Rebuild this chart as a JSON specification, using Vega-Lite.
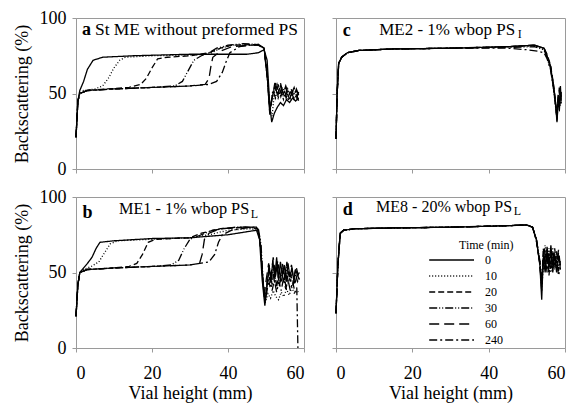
{
  "$schema": "https://vega.github.io/schema/vega-lite/v6.json",
  "background": "white",
  "padding": {"left": 12, "top": 8, "right": 8, "bottom": 2},
  "config": {
    "font": "'Liberation Serif', 'Times New Roman', serif",
    "view": {"stroke": "#9a9a9a", "strokeWidth": 1},
    "axis": {"grid": false, "domainColor": "#9a9a9a", "tickColor": "#9a9a9a", "tickSize": 4, "labelColor": "black", "titleColor": "black", "labelFont": "'Liberation Serif', 'Times New Roman', serif", "titleFont": "'Liberation Serif', 'Times New Roman', serif", "labelFontSize": 18, "titleFontSize": 18, "titleFontWeight": "normal"},
    "legend": {"labelFont": "'Liberation Serif', 'Times New Roman', serif", "titleFont": "'Liberation Serif', 'Times New Roman', serif"},
    "text": {"font": "'Liberation Serif', 'Times New Roman', serif"}
  },
  "datasets": {
    "lab": [
      {"p": "a", "letter": "a", "title": "St ME without preformed PS", "sub": ""},
      {"p": "b", "letter": "b", "title": "ME1 - 1% wbop PS", "sub": "L"},
      {"p": "c", "letter": "c", "title": "ME2 - 1% wbop PS", "sub": "I"},
      {"p": "d", "letter": "d", "title": "ME8 - 20% wbop PS", "sub": "L"}
    ],
    "bs": [
      {"p":"a","t":0,"x":0,"y":21},{"p":"a","t":0,"x":0.5,"y":45},{"p":"a","t":0,"x":1,"y":52},{"p":"a","t":0,"x":2,"y":58},{"p":"a","t":0,"x":3,"y":66},{"p":"a","t":0,"x":4.5,"y":72},{"p":"a","t":0,"x":7,"y":74},{"p":"a","t":0,"x":15,"y":75},{"p":"a","t":0,"x":30,"y":76},{"p":"a","t":0,"x":45,"y":76},{"p":"a","t":0,"x":48,"y":77},{"p":"a","t":0,"x":49.5,"y":79},{"p":"a","t":0,"x":50.3,"y":72},{"p":"a","t":0,"x":51,"y":42},{"p":"a","t":0,"x":51.5,"y":31},{"p":"a","t":0,"x":52.2,"y":37},{"p":"a","t":0,"x":53,"y":41},{"p":"a","t":0,"x":53.8,"y":44},{"p":"a","t":0,"x":54.6,"y":42},{"p":"a","t":0,"x":55.4,"y":46},{"p":"a","t":0,"x":56.2,"y":44},{"p":"a","t":0,"x":57,"y":47},{"p":"a","t":0,"x":57.8,"y":45},{"p":"a","t":0,"x":58.6,"y":47},
      {"p":"a","t":10,"x":0,"y":21},{"p":"a","t":10,"x":0.5,"y":45},{"p":"a","t":10,"x":1,"y":50},{"p":"a","t":10,"x":2,"y":52},{"p":"a","t":10,"x":5,"y":53},{"p":"a","t":10,"x":7,"y":55},{"p":"a","t":10,"x":8.5,"y":60},{"p":"a","t":10,"x":10,"y":67},{"p":"a","t":10,"x":11.5,"y":72},{"p":"a","t":10,"x":13,"y":74},{"p":"a","t":10,"x":20,"y":75},{"p":"a","t":10,"x":30,"y":75.5},{"p":"a","t":10,"x":35,"y":76},{"p":"a","t":10,"x":38,"y":80},{"p":"a","t":10,"x":41,"y":82},{"p":"a","t":10,"x":48,"y":82},{"p":"a","t":10,"x":49.5,"y":80},{"p":"a","t":10,"x":50.4,"y":62},{"p":"a","t":10,"x":51,"y":40},{"p":"a","t":10,"x":51.6,"y":35},{"p":"a","t":10,"x":52.2,"y":50},{"p":"a","t":10,"x":52.9,"y":56},{"p":"a","t":10,"x":53.6,"y":49},{"p":"a","t":10,"x":54.3,"y":54},{"p":"a","t":10,"x":55,"y":48},{"p":"a","t":10,"x":55.7,"y":53},{"p":"a","t":10,"x":56.4,"y":47},{"p":"a","t":10,"x":57.1,"y":52},{"p":"a","t":10,"x":57.8,"y":48},{"p":"a","t":10,"x":58.5,"y":50},
      {"p":"a","t":20,"x":0,"y":21},{"p":"a","t":20,"x":0.5,"y":45},{"p":"a","t":20,"x":1,"y":50},{"p":"a","t":20,"x":3,"y":52},{"p":"a","t":20,"x":8,"y":53},{"p":"a","t":20,"x":14,"y":54},{"p":"a","t":20,"x":17,"y":56},{"p":"a","t":20,"x":18.5,"y":60},{"p":"a","t":20,"x":20,"y":67},{"p":"a","t":20,"x":21.5,"y":73},{"p":"a","t":20,"x":24,"y":74},{"p":"a","t":20,"x":30,"y":75},{"p":"a","t":20,"x":35,"y":77},{"p":"a","t":20,"x":38,"y":80},{"p":"a","t":20,"x":41,"y":82},{"p":"a","t":20,"x":48,"y":82.5},{"p":"a","t":20,"x":49.5,"y":80},{"p":"a","t":20,"x":50.4,"y":60},{"p":"a","t":20,"x":51,"y":38},{"p":"a","t":20,"x":51.7,"y":48},{"p":"a","t":20,"x":52.4,"y":58},{"p":"a","t":20,"x":53.1,"y":50},{"p":"a","t":20,"x":53.8,"y":55},{"p":"a","t":20,"x":54.5,"y":49},{"p":"a","t":20,"x":55.2,"y":54},{"p":"a","t":20,"x":55.9,"y":48},{"p":"a","t":20,"x":56.6,"y":53},{"p":"a","t":20,"x":57.3,"y":49},{"p":"a","t":20,"x":58,"y":52},{"p":"a","t":20,"x":58.6,"y":48},
      {"p":"a","t":30,"x":0,"y":21},{"p":"a","t":30,"x":0.5,"y":45},{"p":"a","t":30,"x":1,"y":50},{"p":"a","t":30,"x":3,"y":52},{"p":"a","t":30,"x":10,"y":53},{"p":"a","t":30,"x":20,"y":54},{"p":"a","t":30,"x":26,"y":55},{"p":"a","t":30,"x":28,"y":58},{"p":"a","t":30,"x":29.5,"y":65},{"p":"a","t":30,"x":31,"y":72},{"p":"a","t":30,"x":33,"y":75},{"p":"a","t":30,"x":35,"y":77},{"p":"a","t":30,"x":37,"y":80},{"p":"a","t":30,"x":40,"y":82},{"p":"a","t":30,"x":44,"y":83},{"p":"a","t":30,"x":48,"y":82.5},{"p":"a","t":30,"x":49.5,"y":80},{"p":"a","t":30,"x":50.4,"y":58},{"p":"a","t":30,"x":51,"y":37},{"p":"a","t":30,"x":51.8,"y":52},{"p":"a","t":30,"x":52.5,"y":47},{"p":"a","t":30,"x":53.2,"y":56},{"p":"a","t":30,"x":53.9,"y":48},{"p":"a","t":30,"x":54.6,"y":53},{"p":"a","t":30,"x":55.3,"y":47},{"p":"a","t":30,"x":56,"y":52},{"p":"a","t":30,"x":56.7,"y":50},{"p":"a","t":30,"x":57.4,"y":54},{"p":"a","t":30,"x":58.1,"y":47},{"p":"a","t":30,"x":58.6,"y":51},
      {"p":"a","t":60,"x":0,"y":21},{"p":"a","t":60,"x":0.5,"y":45},{"p":"a","t":60,"x":1,"y":50},{"p":"a","t":60,"x":3,"y":52},{"p":"a","t":60,"x":10,"y":53},{"p":"a","t":60,"x":20,"y":54},{"p":"a","t":60,"x":30,"y":55},{"p":"a","t":60,"x":34,"y":56},{"p":"a","t":60,"x":35,"y":60},{"p":"a","t":60,"x":35.5,"y":68},{"p":"a","t":60,"x":36,"y":74},{"p":"a","t":60,"x":38,"y":78},{"p":"a","t":60,"x":41,"y":81},{"p":"a","t":60,"x":45,"y":82},{"p":"a","t":60,"x":48,"y":82},{"p":"a","t":60,"x":49.5,"y":80},{"p":"a","t":60,"x":50.4,"y":60},{"p":"a","t":60,"x":51,"y":36},{"p":"a","t":60,"x":51.7,"y":50},{"p":"a","t":60,"x":52.4,"y":55},{"p":"a","t":60,"x":53.1,"y":48},{"p":"a","t":60,"x":53.8,"y":57},{"p":"a","t":60,"x":54.5,"y":50},{"p":"a","t":60,"x":55.2,"y":55},{"p":"a","t":60,"x":55.9,"y":49},{"p":"a","t":60,"x":56.6,"y":51},{"p":"a","t":60,"x":57.3,"y":47},{"p":"a","t":60,"x":58,"y":53},{"p":"a","t":60,"x":58.6,"y":49},
      {"p":"a","t":240,"x":0,"y":21},{"p":"a","t":240,"x":0.5,"y":45},{"p":"a","t":240,"x":1,"y":50},{"p":"a","t":240,"x":3,"y":52},{"p":"a","t":240,"x":10,"y":53},{"p":"a","t":240,"x":20,"y":54},{"p":"a","t":240,"x":30,"y":55},{"p":"a","t":240,"x":35,"y":56},{"p":"a","t":240,"x":37,"y":58},{"p":"a","t":240,"x":38.5,"y":64},{"p":"a","t":240,"x":39.5,"y":71},{"p":"a","t":240,"x":40.5,"y":77},{"p":"a","t":240,"x":43,"y":81},{"p":"a","t":240,"x":46,"y":82},{"p":"a","t":240,"x":48,"y":82},{"p":"a","t":240,"x":49.5,"y":80},{"p":"a","t":240,"x":50.4,"y":59},{"p":"a","t":240,"x":51,"y":39},{"p":"a","t":240,"x":51.8,"y":49},{"p":"a","t":240,"x":52.5,"y":54},{"p":"a","t":240,"x":53.2,"y":47},{"p":"a","t":240,"x":53.9,"y":52},{"p":"a","t":240,"x":54.6,"y":46},{"p":"a","t":240,"x":55.3,"y":51},{"p":"a","t":240,"x":56,"y":45},{"p":"a","t":240,"x":56.7,"y":50},{"p":"a","t":240,"x":57.4,"y":46},{"p":"a","t":240,"x":58.1,"y":49},{"p":"a","t":240,"x":58.6,"y":45},

      {"p":"b","t":0,"x":0,"y":21},{"p":"b","t":0,"x":0.5,"y":42},{"p":"b","t":0,"x":1,"y":50},{"p":"b","t":0,"x":2,"y":53},{"p":"b","t":0,"x":3,"y":56},{"p":"b","t":0,"x":4.2,"y":60},{"p":"b","t":0,"x":5.3,"y":66},{"p":"b","t":0,"x":6.3,"y":70},{"p":"b","t":0,"x":10,"y":71},{"p":"b","t":0,"x":20,"y":72.5},{"p":"b","t":0,"x":30,"y":73},{"p":"b","t":0,"x":35,"y":74},{"p":"b","t":0,"x":40,"y":75},{"p":"b","t":0,"x":45,"y":77},{"p":"b","t":0,"x":47.5,"y":78},{"p":"b","t":0,"x":48.3,"y":72},{"p":"b","t":0,"x":49,"y":45},{"p":"b","t":0,"x":49.7,"y":28},{"p":"b","t":0,"x":50.3,"y":42},{"p":"b","t":0,"x":50.8,"y":55},{"p":"b","t":0,"x":51.3,"y":44},{"p":"b","t":0,"x":51.8,"y":58},{"p":"b","t":0,"x":52.3,"y":46},{"p":"b","t":0,"x":52.8,"y":60},{"p":"b","t":0,"x":53.3,"y":45},{"p":"b","t":0,"x":53.8,"y":57},{"p":"b","t":0,"x":54.3,"y":48},{"p":"b","t":0,"x":54.8,"y":55},{"p":"b","t":0,"x":55.3,"y":44},{"p":"b","t":0,"x":55.8,"y":56},{"p":"b","t":0,"x":56.3,"y":47},{"p":"b","t":0,"x":56.8,"y":53},{"p":"b","t":0,"x":57.3,"y":45},{"p":"b","t":0,"x":57.8,"y":52},{"p":"b","t":0,"x":58.3,"y":48},{"p":"b","t":0,"x":58.8,"y":50},
      {"p":"b","t":10,"x":0,"y":21},{"p":"b","t":10,"x":0.5,"y":42},{"p":"b","t":10,"x":1,"y":50},{"p":"b","t":10,"x":2,"y":52},{"p":"b","t":10,"x":4,"y":54},{"p":"b","t":10,"x":6,"y":57},{"p":"b","t":10,"x":7.5,"y":63},{"p":"b","t":10,"x":9,"y":69},{"p":"b","t":10,"x":11,"y":71},{"p":"b","t":10,"x":20,"y":72},{"p":"b","t":10,"x":30,"y":73},{"p":"b","t":10,"x":35,"y":75},{"p":"b","t":10,"x":40,"y":78},{"p":"b","t":10,"x":46,"y":79},{"p":"b","t":10,"x":47.8,"y":78},{"p":"b","t":10,"x":48.5,"y":70},{"p":"b","t":10,"x":49.2,"y":45},{"p":"b","t":10,"x":49.8,"y":30},{"p":"b","t":10,"x":50.5,"y":36},{"p":"b","t":10,"x":51.2,"y":33},{"p":"b","t":10,"x":51.9,"y":38},{"p":"b","t":10,"x":52.6,"y":34},{"p":"b","t":10,"x":53.3,"y":32},{"p":"b","t":10,"x":54,"y":37},{"p":"b","t":10,"x":54.7,"y":34},{"p":"b","t":10,"x":55.4,"y":39},{"p":"b","t":10,"x":56.1,"y":35},{"p":"b","t":10,"x":56.8,"y":40},{"p":"b","t":10,"x":57.5,"y":36},{"p":"b","t":10,"x":58.2,"y":38},{"p":"b","t":10,"x":58.8,"y":36},
      {"p":"b","t":20,"x":0,"y":21},{"p":"b","t":20,"x":0.5,"y":42},{"p":"b","t":20,"x":1,"y":50},{"p":"b","t":20,"x":3,"y":52},{"p":"b","t":20,"x":10,"y":53},{"p":"b","t":20,"x":14,"y":54},{"p":"b","t":20,"x":16,"y":56},{"p":"b","t":20,"x":17.5,"y":62},{"p":"b","t":20,"x":19,"y":70},{"p":"b","t":20,"x":21,"y":72},{"p":"b","t":20,"x":30,"y":73},{"p":"b","t":20,"x":33,"y":76},{"p":"b","t":20,"x":38,"y":79},{"p":"b","t":20,"x":45,"y":80},{"p":"b","t":20,"x":47.8,"y":79},{"p":"b","t":20,"x":48.5,"y":70},{"p":"b","t":20,"x":49.2,"y":44},{"p":"b","t":20,"x":49.8,"y":32},{"p":"b","t":20,"x":50.4,"y":45},{"p":"b","t":20,"x":51,"y":52},{"p":"b","t":20,"x":51.6,"y":42},{"p":"b","t":20,"x":52.2,"y":54},{"p":"b","t":20,"x":52.8,"y":40},{"p":"b","t":20,"x":53.4,"y":50},{"p":"b","t":20,"x":54,"y":43},{"p":"b","t":20,"x":54.6,"y":53},{"p":"b","t":20,"x":55.2,"y":41},{"p":"b","t":20,"x":55.8,"y":51},{"p":"b","t":20,"x":56.4,"y":44},{"p":"b","t":20,"x":57,"y":50},{"p":"b","t":20,"x":57.6,"y":42},{"p":"b","t":20,"x":58.2,"y":49},{"p":"b","t":20,"x":58.8,"y":45},
      {"p":"b","t":30,"x":0,"y":21},{"p":"b","t":30,"x":0.5,"y":42},{"p":"b","t":30,"x":1,"y":50},{"p":"b","t":30,"x":3,"y":52},{"p":"b","t":30,"x":10,"y":53},{"p":"b","t":30,"x":20,"y":54},{"p":"b","t":30,"x":25,"y":55},{"p":"b","t":30,"x":27,"y":58},{"p":"b","t":30,"x":28.5,"y":66},{"p":"b","t":30,"x":30,"y":72},{"p":"b","t":30,"x":32,"y":74},{"p":"b","t":30,"x":36,"y":78},{"p":"b","t":30,"x":42,"y":80},{"p":"b","t":30,"x":47,"y":80},{"p":"b","t":30,"x":48,"y":79},{"p":"b","t":30,"x":48.7,"y":68},{"p":"b","t":30,"x":49.3,"y":42},{"p":"b","t":30,"x":49.9,"y":33},{"p":"b","t":30,"x":50.5,"y":48},{"p":"b","t":30,"x":51.1,"y":40},{"p":"b","t":30,"x":51.7,"y":52},{"p":"b","t":30,"x":52.3,"y":43},{"p":"b","t":30,"x":52.9,"y":55},{"p":"b","t":30,"x":53.5,"y":41},{"p":"b","t":30,"x":54.1,"y":50},{"p":"b","t":30,"x":54.7,"y":44},{"p":"b","t":30,"x":55.3,"y":54},{"p":"b","t":30,"x":55.9,"y":42},{"p":"b","t":30,"x":56.5,"y":49},{"p":"b","t":30,"x":57.1,"y":41},{"p":"b","t":30,"x":57.7,"y":50},{"p":"b","t":30,"x":58.3,"y":44},{"p":"b","t":30,"x":58.8,"y":47},
      {"p":"b","t":60,"x":0,"y":21},{"p":"b","t":60,"x":0.5,"y":42},{"p":"b","t":60,"x":1,"y":50},{"p":"b","t":60,"x":3,"y":52},{"p":"b","t":60,"x":10,"y":53},{"p":"b","t":60,"x":20,"y":54},{"p":"b","t":60,"x":30,"y":55},{"p":"b","t":60,"x":32.5,"y":56},{"p":"b","t":60,"x":33.2,"y":62},{"p":"b","t":60,"x":33.8,"y":72},{"p":"b","t":60,"x":35,"y":76},{"p":"b","t":60,"x":38,"y":79},{"p":"b","t":60,"x":44,"y":80},{"p":"b","t":60,"x":47.5,"y":80},{"p":"b","t":60,"x":48.2,"y":76},{"p":"b","t":60,"x":48.9,"y":55},{"p":"b","t":60,"x":49.5,"y":34},{"p":"b","t":60,"x":50.1,"y":46},{"p":"b","t":60,"x":50.7,"y":56},{"p":"b","t":60,"x":51.3,"y":47},{"p":"b","t":60,"x":51.9,"y":60},{"p":"b","t":60,"x":52.5,"y":48},{"p":"b","t":60,"x":53.1,"y":58},{"p":"b","t":60,"x":53.7,"y":46},{"p":"b","t":60,"x":54.3,"y":56},{"p":"b","t":60,"x":54.9,"y":45},{"p":"b","t":60,"x":55.5,"y":57},{"p":"b","t":60,"x":56.1,"y":47},{"p":"b","t":60,"x":56.7,"y":55},{"p":"b","t":60,"x":57.3,"y":46},{"p":"b","t":60,"x":57.9,"y":54},{"p":"b","t":60,"x":58.5,"y":48},
      {"p":"b","t":240,"x":0,"y":21},{"p":"b","t":240,"x":0.5,"y":42},{"p":"b","t":240,"x":1,"y":50},{"p":"b","t":240,"x":3,"y":52},{"p":"b","t":240,"x":10,"y":53},{"p":"b","t":240,"x":20,"y":54},{"p":"b","t":240,"x":30,"y":55},{"p":"b","t":240,"x":35,"y":57},{"p":"b","t":240,"x":36.5,"y":62},{"p":"b","t":240,"x":37.5,"y":70},{"p":"b","t":240,"x":38.5,"y":75},{"p":"b","t":240,"x":41,"y":78},{"p":"b","t":240,"x":46,"y":80},{"p":"b","t":240,"x":47.8,"y":79},{"p":"b","t":240,"x":48.5,"y":70},{"p":"b","t":240,"x":49.2,"y":44},{"p":"b","t":240,"x":49.8,"y":31},{"p":"b","t":240,"x":50.4,"y":40},{"p":"b","t":240,"x":51,"y":47},{"p":"b","t":240,"x":51.6,"y":38},{"p":"b","t":240,"x":52.2,"y":45},{"p":"b","t":240,"x":52.8,"y":37},{"p":"b","t":240,"x":53.4,"y":44},{"p":"b","t":240,"x":54,"y":38},{"p":"b","t":240,"x":54.6,"y":46},{"p":"b","t":240,"x":55.2,"y":39},{"p":"b","t":240,"x":55.8,"y":45},{"p":"b","t":240,"x":56.4,"y":38},{"p":"b","t":240,"x":57,"y":44},{"p":"b","t":240,"x":57.6,"y":37},{"p":"b","t":240,"x":58.1,"y":40},{"p":"b","t":240,"x":58.4,"y":0},

      {"p":"c","t":0,"x":0,"y":20},{"p":"c","t":0,"x":0.3,"y":50},{"p":"c","t":0,"x":0.7,"y":70},{"p":"c","t":0,"x":1.5,"y":74},{"p":"c","t":0,"x":3,"y":77},{"p":"c","t":0,"x":6,"y":78.5},{"p":"c","t":0,"x":15,"y":79.5},{"p":"c","t":0,"x":30,"y":80},{"p":"c","t":0,"x":45,"y":81},{"p":"c","t":0,"x":52,"y":82},{"p":"c","t":0,"x":54.5,"y":80},{"p":"c","t":0,"x":55.3,"y":75},{"p":"c","t":0,"x":56.2,"y":68},{"p":"c","t":0,"x":57,"y":55},{"p":"c","t":0,"x":57.5,"y":44},{"p":"c","t":0,"x":57.9,"y":31},{"p":"c","t":0,"x":58.2,"y":48},{"p":"c","t":0,"x":58.5,"y":40},{"p":"c","t":0,"x":58.8,"y":55},{"p":"c","t":0,"x":59,"y":45},
      {"p":"c","t":10,"x":0,"y":20},{"p":"c","t":10,"x":0.3,"y":50},{"p":"c","t":10,"x":0.7,"y":70},{"p":"c","t":10,"x":1.5,"y":74},{"p":"c","t":10,"x":3,"y":77},{"p":"c","t":10,"x":6,"y":78.5},{"p":"c","t":10,"x":15,"y":79.5},{"p":"c","t":10,"x":30,"y":80},{"p":"c","t":10,"x":45,"y":81},{"p":"c","t":10,"x":52,"y":81.5},{"p":"c","t":10,"x":54.5,"y":79},{"p":"c","t":10,"x":55.3,"y":74},{"p":"c","t":10,"x":56.2,"y":66},{"p":"c","t":10,"x":57,"y":53},{"p":"c","t":10,"x":57.5,"y":42},{"p":"c","t":10,"x":57.9,"y":34},{"p":"c","t":10,"x":58.2,"y":44},{"p":"c","t":10,"x":58.5,"y":52},{"p":"c","t":10,"x":58.8,"y":42},{"p":"c","t":10,"x":59,"y":50},
      {"p":"c","t":20,"x":0,"y":20},{"p":"c","t":20,"x":0.3,"y":50},{"p":"c","t":20,"x":0.7,"y":70},{"p":"c","t":20,"x":1.5,"y":74},{"p":"c","t":20,"x":3,"y":77},{"p":"c","t":20,"x":6,"y":78.5},{"p":"c","t":20,"x":15,"y":79.5},{"p":"c","t":20,"x":30,"y":80},{"p":"c","t":20,"x":45,"y":81},{"p":"c","t":20,"x":52,"y":82},{"p":"c","t":20,"x":54.5,"y":80},{"p":"c","t":20,"x":55.3,"y":76},{"p":"c","t":20,"x":56.2,"y":69},{"p":"c","t":20,"x":57,"y":56},{"p":"c","t":20,"x":57.5,"y":45},{"p":"c","t":20,"x":57.9,"y":33},{"p":"c","t":20,"x":58.2,"y":50},{"p":"c","t":20,"x":58.5,"y":43},{"p":"c","t":20,"x":58.8,"y":53},{"p":"c","t":20,"x":59,"y":48},
      {"p":"c","t":30,"x":0,"y":20},{"p":"c","t":30,"x":0.3,"y":50},{"p":"c","t":30,"x":0.7,"y":70},{"p":"c","t":30,"x":1.5,"y":74},{"p":"c","t":30,"x":3,"y":77},{"p":"c","t":30,"x":6,"y":78.5},{"p":"c","t":30,"x":15,"y":79.5},{"p":"c","t":30,"x":30,"y":80},{"p":"c","t":30,"x":45,"y":80.5},{"p":"c","t":30,"x":52,"y":81},{"p":"c","t":30,"x":54.5,"y":79},{"p":"c","t":30,"x":55.3,"y":74},{"p":"c","t":30,"x":56.2,"y":67},{"p":"c","t":30,"x":57,"y":54},{"p":"c","t":30,"x":57.5,"y":43},{"p":"c","t":30,"x":57.9,"y":35},{"p":"c","t":30,"x":58.2,"y":46},{"p":"c","t":30,"x":58.5,"y":38},{"p":"c","t":30,"x":58.8,"y":50},{"p":"c","t":30,"x":59,"y":44},
      {"p":"c","t":60,"x":0,"y":20},{"p":"c","t":60,"x":0.3,"y":50},{"p":"c","t":60,"x":0.7,"y":70},{"p":"c","t":60,"x":1.5,"y":74},{"p":"c","t":60,"x":3,"y":77},{"p":"c","t":60,"x":6,"y":78.5},{"p":"c","t":60,"x":15,"y":79.5},{"p":"c","t":60,"x":30,"y":80},{"p":"c","t":60,"x":45,"y":81},{"p":"c","t":60,"x":52,"y":82},{"p":"c","t":60,"x":54.5,"y":80},{"p":"c","t":60,"x":55.3,"y":75},{"p":"c","t":60,"x":56.2,"y":68},{"p":"c","t":60,"x":57,"y":55},{"p":"c","t":60,"x":57.5,"y":44},{"p":"c","t":60,"x":57.9,"y":32},{"p":"c","t":60,"x":58.2,"y":42},{"p":"c","t":60,"x":58.5,"y":54},{"p":"c","t":60,"x":58.8,"y":46},{"p":"c","t":60,"x":59,"y":51},
      {"p":"c","t":240,"x":0,"y":20},{"p":"c","t":240,"x":0.3,"y":50},{"p":"c","t":240,"x":0.7,"y":70},{"p":"c","t":240,"x":1.5,"y":74},{"p":"c","t":240,"x":3,"y":77},{"p":"c","t":240,"x":6,"y":78.5},{"p":"c","t":240,"x":15,"y":79.5},{"p":"c","t":240,"x":30,"y":80},{"p":"c","t":240,"x":45,"y":80},{"p":"c","t":240,"x":50,"y":79},{"p":"c","t":240,"x":53,"y":78},{"p":"c","t":240,"x":54.5,"y":77},{"p":"c","t":240,"x":55.3,"y":73},{"p":"c","t":240,"x":56.2,"y":66},{"p":"c","t":240,"x":57,"y":53},{"p":"c","t":240,"x":57.5,"y":43},{"p":"c","t":240,"x":57.9,"y":36},{"p":"c","t":240,"x":58.2,"y":47},{"p":"c","t":240,"x":58.5,"y":41},{"p":"c","t":240,"x":58.8,"y":49},{"p":"c","t":240,"x":59,"y":43},

      {"p":"d","t":0,"x":0,"y":23},{"p":"d","t":0,"x":0.5,"y":55},{"p":"d","t":0,"x":1.1,"y":76},{"p":"d","t":0,"x":2,"y":78},{"p":"d","t":0,"x":5,"y":79},{"p":"d","t":0,"x":15,"y":79.5},{"p":"d","t":0,"x":30,"y":80},{"p":"d","t":0,"x":45,"y":81},{"p":"d","t":0,"x":50,"y":81.5},{"p":"d","t":0,"x":51.5,"y":80},{"p":"d","t":0,"x":52.5,"y":72},{"p":"d","t":0,"x":53.4,"y":56},{"p":"d","t":0,"x":53.9,"y":32},{"p":"d","t":0,"x":54.3,"y":60},{"p":"d","t":0,"x":54.8,"y":50},{"p":"d","t":0,"x":55.3,"y":65},{"p":"d","t":0,"x":55.8,"y":52},{"p":"d","t":0,"x":56.3,"y":68},{"p":"d","t":0,"x":56.8,"y":55},{"p":"d","t":0,"x":57.3,"y":62},{"p":"d","t":0,"x":57.8,"y":50},{"p":"d","t":0,"x":58.3,"y":60},{"p":"d","t":0,"x":58.8,"y":55},
      {"p":"d","t":10,"x":0,"y":23},{"p":"d","t":10,"x":0.5,"y":55},{"p":"d","t":10,"x":1.1,"y":76},{"p":"d","t":10,"x":2,"y":78},{"p":"d","t":10,"x":5,"y":79},{"p":"d","t":10,"x":15,"y":79.5},{"p":"d","t":10,"x":30,"y":80},{"p":"d","t":10,"x":45,"y":81},{"p":"d","t":10,"x":50,"y":81.5},{"p":"d","t":10,"x":51.5,"y":80},{"p":"d","t":10,"x":52.5,"y":72},{"p":"d","t":10,"x":53.4,"y":57},{"p":"d","t":10,"x":53.9,"y":40},{"p":"d","t":10,"x":54.3,"y":52},{"p":"d","t":10,"x":54.8,"y":63},{"p":"d","t":10,"x":55.3,"y":54},{"p":"d","t":10,"x":55.8,"y":66},{"p":"d","t":10,"x":56.3,"y":53},{"p":"d","t":10,"x":56.8,"y":64},{"p":"d","t":10,"x":57.3,"y":52},{"p":"d","t":10,"x":57.8,"y":61},{"p":"d","t":10,"x":58.3,"y":53},{"p":"d","t":10,"x":58.8,"y":58},
      {"p":"d","t":20,"x":0,"y":23},{"p":"d","t":20,"x":0.5,"y":55},{"p":"d","t":20,"x":1.1,"y":76},{"p":"d","t":20,"x":2,"y":78},{"p":"d","t":20,"x":5,"y":79},{"p":"d","t":20,"x":15,"y":79.5},{"p":"d","t":20,"x":30,"y":80},{"p":"d","t":20,"x":45,"y":81},{"p":"d","t":20,"x":50,"y":81.5},{"p":"d","t":20,"x":51.5,"y":80},{"p":"d","t":20,"x":52.5,"y":71},{"p":"d","t":20,"x":53.4,"y":55},{"p":"d","t":20,"x":53.9,"y":42},{"p":"d","t":20,"x":54.3,"y":66},{"p":"d","t":20,"x":54.8,"y":55},{"p":"d","t":20,"x":55.3,"y":61},{"p":"d","t":20,"x":55.8,"y":48},{"p":"d","t":20,"x":56.3,"y":62},{"p":"d","t":20,"x":56.8,"y":50},{"p":"d","t":20,"x":57.3,"y":66},{"p":"d","t":20,"x":57.8,"y":54},{"p":"d","t":20,"x":58.3,"y":63},{"p":"d","t":20,"x":58.8,"y":52},
      {"p":"d","t":30,"x":0,"y":23},{"p":"d","t":30,"x":0.5,"y":55},{"p":"d","t":30,"x":1.1,"y":76},{"p":"d","t":30,"x":2,"y":78},{"p":"d","t":30,"x":5,"y":79},{"p":"d","t":30,"x":15,"y":79.5},{"p":"d","t":30,"x":30,"y":80},{"p":"d","t":30,"x":45,"y":81},{"p":"d","t":30,"x":50,"y":81.5},{"p":"d","t":30,"x":51.5,"y":80},{"p":"d","t":30,"x":52.5,"y":72},{"p":"d","t":30,"x":53.4,"y":58},{"p":"d","t":30,"x":53.9,"y":45},{"p":"d","t":30,"x":54.3,"y":58},{"p":"d","t":30,"x":54.8,"y":68},{"p":"d","t":30,"x":55.3,"y":56},{"p":"d","t":30,"x":55.8,"y":63},{"p":"d","t":30,"x":56.3,"y":50},{"p":"d","t":30,"x":56.8,"y":60},{"p":"d","t":30,"x":57.3,"y":55},{"p":"d","t":30,"x":57.8,"y":64},{"p":"d","t":30,"x":58.3,"y":51},{"p":"d","t":30,"x":58.8,"y":57},
      {"p":"d","t":60,"x":0,"y":23},{"p":"d","t":60,"x":0.5,"y":55},{"p":"d","t":60,"x":1.1,"y":76},{"p":"d","t":60,"x":2,"y":78},{"p":"d","t":60,"x":5,"y":79},{"p":"d","t":60,"x":15,"y":79.5},{"p":"d","t":60,"x":30,"y":80},{"p":"d","t":60,"x":45,"y":81},{"p":"d","t":60,"x":50,"y":81.5},{"p":"d","t":60,"x":51.5,"y":80},{"p":"d","t":60,"x":52.5,"y":72},{"p":"d","t":60,"x":53.4,"y":56},{"p":"d","t":60,"x":53.9,"y":38},{"p":"d","t":60,"x":54.3,"y":62},{"p":"d","t":60,"x":54.8,"y":53},{"p":"d","t":60,"x":55.3,"y":67},{"p":"d","t":60,"x":55.8,"y":57},{"p":"d","t":60,"x":56.3,"y":64},{"p":"d","t":60,"x":56.8,"y":51},{"p":"d","t":60,"x":57.3,"y":60},{"p":"d","t":60,"x":57.8,"y":56},{"p":"d","t":60,"x":58.3,"y":65},{"p":"d","t":60,"x":58.8,"y":54},
      {"p":"d","t":240,"x":0,"y":23},{"p":"d","t":240,"x":0.5,"y":55},{"p":"d","t":240,"x":1.1,"y":76},{"p":"d","t":240,"x":2,"y":78},{"p":"d","t":240,"x":5,"y":79},{"p":"d","t":240,"x":15,"y":79.5},{"p":"d","t":240,"x":30,"y":80},{"p":"d","t":240,"x":45,"y":81},{"p":"d","t":240,"x":50,"y":81.5},{"p":"d","t":240,"x":51.5,"y":80},{"p":"d","t":240,"x":52.5,"y":71},{"p":"d","t":240,"x":53.4,"y":57},{"p":"d","t":240,"x":53.9,"y":44},{"p":"d","t":240,"x":54.3,"y":55},{"p":"d","t":240,"x":54.8,"y":62},{"p":"d","t":240,"x":55.3,"y":50},{"p":"d","t":240,"x":55.8,"y":60},{"p":"d","t":240,"x":56.3,"y":56},{"p":"d","t":240,"x":56.8,"y":66},{"p":"d","t":240,"x":57.3,"y":53},{"p":"d","t":240,"x":57.8,"y":59},{"p":"d","t":240,"x":58.3,"y":48},{"p":"d","t":240,"x":58.8,"y":53}
    ]
  },
  "columns": 2,
  "spacing": {"row": 28, "column": 32},
  "bounds": "flush",
  "resolve": {"scale": {"strokeDash": "independent"}, "legend": {"strokeDash": "independent"}},
  "concat": [
    {
      "width": 228, "height": 151,
      "layer": [
        {
          "data": {"name": "bs"},
          "transform": [{"filter": "datum.p === 'a'"}],
          "mark": {"type": "line", "color": "black", "strokeWidth": 1.3},
          "encoding": {
            "x": {"field": "x", "type": "quantitative", "scale": {"domain": [0, 60], "nice": false}, "axis": {"values": [0, 20, 40, 60], "labels": false, "title": null}},
            "y": {"field": "y", "type": "quantitative", "scale": {"domain": [0, 100], "nice": false}, "axis": {"values": [0, 50, 100], "title": "Backscattering (%)", "labelPadding": 6, "titlePadding": 8}},
            "strokeDash": {"field": "t", "type": "ordinal", "scale": {"domain": [0, 10, 20, 30, 60, 240], "range": [[1, 0], [1, 2], [6, 3], [8, 2, 1, 2, 1, 2], [10, 5], [8, 3, 2, 3]]}, "legend": null}
          }
        },
        {
          "data": {"name": "lab"},
          "transform": [{"filter": "datum.p === 'a'"}],
          "mark": {"type": "text", "align": "left", "baseline": "alphabetic", "fontSize": 18, "fontWeight": "bold", "color": "black"},
          "encoding": {"x": {"datum": 1.6}, "y": {"datum": 88.7}, "text": {"field": "letter"}}
        },
        {
          "data": {"name": "lab"},
          "transform": [{"filter": "datum.p === 'a'"}],
          "mark": {"type": "text", "align": "left", "baseline": "alphabetic", "fontSize": 17.4, "color": "black"},
          "encoding": {"x": {"datum": 5.0}, "y": {"datum": 88.7}, "text": {"field": "title"}}
        }
      ]
    },
    {
      "width": 229, "height": 151,
      "layer": [
        {
          "data": {"name": "bs"},
          "transform": [{"filter": "datum.p === 'c'"}],
          "mark": {"type": "line", "color": "black", "strokeWidth": 1.3},
          "encoding": {
            "x": {"field": "x", "type": "quantitative", "scale": {"domain": [0, 60], "nice": false}, "axis": {"values": [0, 20, 40, 60], "labels": false, "title": null}},
            "y": {"field": "y", "type": "quantitative", "scale": {"domain": [0, 100], "nice": false}, "axis": {"values": [0, 50, 100], "labels": false, "title": null}},
            "strokeDash": {"field": "t", "type": "ordinal", "scale": {"domain": [0, 10, 20, 30, 60, 240], "range": [[1, 0], [1, 2], [6, 3], [8, 2, 1, 2, 1, 2], [10, 5], [8, 3, 2, 3]]}, "legend": null}
          }
        },
        {
          "data": {"name": "lab"},
          "transform": [{"filter": "datum.p === 'c'"}],
          "mark": {"type": "text", "align": "left", "baseline": "alphabetic", "fontSize": 18, "fontWeight": "bold", "color": "black"},
          "encoding": {"x": {"datum": 1.8}, "y": {"datum": 88}, "text": {"field": "letter"}}
        },
        {
          "data": {"name": "lab"},
          "transform": [{"filter": "datum.p === 'c'"}],
          "mark": {"type": "text", "align": "left", "baseline": "alphabetic", "fontSize": 17, "color": "black"},
          "encoding": {"x": {"datum": 11.3}, "y": {"datum": 88.9}, "text": {"field": "title"}}
        },
        {
          "data": {"name": "lab"},
          "transform": [{"filter": "datum.p === 'c'"}],
          "mark": {"type": "text", "align": "left", "baseline": "alphabetic", "fontSize": 12, "color": "black"},
          "encoding": {"x": {"datum": 47.6}, "y": {"datum": 86.6}, "text": {"field": "sub"}}
        }
      ]
    },
    {
      "width": 228, "height": 151,
      "layer": [
        {
          "data": {"name": "bs"},
          "transform": [{"filter": "datum.p === 'b'"}],
          "mark": {"type": "line", "color": "black", "strokeWidth": 1.3},
          "encoding": {
            "x": {"field": "x", "type": "quantitative", "scale": {"domain": [0, 60], "nice": false}, "axis": {"values": [0, 20, 40, 60], "title": "Vial height (mm)", "labelPadding": 12, "titlePadding": 2}},
            "y": {"field": "y", "type": "quantitative", "scale": {"domain": [0, 100], "nice": false}, "axis": {"values": [0, 50, 100], "title": "Backscattering (%)", "labelPadding": 6, "titlePadding": 8}},
            "strokeDash": {"field": "t", "type": "ordinal", "scale": {"domain": [0, 10, 20, 30, 60, 240], "range": [[1, 0], [1, 2], [6, 3], [8, 2, 1, 2, 1, 2], [10, 5], [8, 3, 2, 3]]}, "legend": null}
          }
        },
        {
          "data": {"name": "lab"},
          "transform": [{"filter": "datum.p === 'b'"}],
          "mark": {"type": "text", "align": "left", "baseline": "alphabetic", "fontSize": 18, "fontWeight": "bold", "color": "black"},
          "encoding": {"x": {"datum": 1.7}, "y": {"datum": 86.4}, "text": {"field": "letter"}}
        },
        {
          "data": {"name": "lab"},
          "transform": [{"filter": "datum.p === 'b'"}],
          "mark": {"type": "text", "align": "left", "baseline": "alphabetic", "fontSize": 16.3, "color": "black"},
          "encoding": {"x": {"datum": 11.3}, "y": {"datum": 88.7}, "text": {"field": "title"}}
        },
        {
          "data": {"name": "lab"},
          "transform": [{"filter": "datum.p === 'b'"}],
          "mark": {"type": "text", "align": "left", "baseline": "alphabetic", "fontSize": 12, "color": "black"},
          "encoding": {"x": {"datum": 46.0}, "y": {"datum": 86.3}, "text": {"field": "sub"}}
        }
      ]
    },
    {
      "width": 229, "height": 151,
      "layer": [
        {
          "data": {"name": "bs"},
          "transform": [{"filter": "datum.p === 'd'"}],
          "mark": {"type": "line", "color": "black", "strokeWidth": 1.3},
          "encoding": {
            "x": {"field": "x", "type": "quantitative", "scale": {"domain": [0, 60], "nice": false}, "axis": {"values": [0, 20, 40, 60], "title": "Vial height (mm)", "labelPadding": 12, "titlePadding": 2}},
            "y": {"field": "y", "type": "quantitative", "scale": {"domain": [0, 100], "nice": false}, "axis": {"values": [0, 50, 100], "labels": false, "title": null}},
            "strokeDash": {"field": "t", "type": "ordinal", "scale": {"domain": [0, 10, 20, 30, 60, 240], "range": [[1, 0], [1, 2], [6, 3], [8, 2, 1, 2, 1, 2], [10, 5], [8, 3, 2, 3]]},
              "legend": {"orient": "none", "legendX": 123, "legendY": 43, "padding": 0, "title": "Time (min)", "titleFontSize": 12, "titleFontWeight": "normal", "titleColor": "black", "titleAnchor": "start", "titlePadding": 0, "labelFontSize": 12, "labelColor": "black", "symbolType": "M-5.4,0H1", "symbolSize": 196, "symbolStrokeWidth": 1.5, "symbolStrokeColor": "black", "symbolFillColor": "transparent", "rowPadding": 2, "labelOffset": 10}}
          }
        },
        {
          "data": {"name": "lab"},
          "transform": [{"filter": "datum.p === 'd'"}],
          "mark": {"type": "text", "align": "left", "baseline": "alphabetic", "fontSize": 18, "fontWeight": "bold", "color": "black"},
          "encoding": {"x": {"datum": 1.8}, "y": {"datum": 88}, "text": {"field": "letter"}}
        },
        {
          "data": {"name": "lab"},
          "transform": [{"filter": "datum.p === 'd'"}],
          "mark": {"type": "text", "align": "left", "baseline": "alphabetic", "fontSize": 16, "color": "black"},
          "encoding": {"x": {"datum": 10.5}, "y": {"datum": 90}, "text": {"field": "title"}}
        },
        {
          "data": {"name": "lab"},
          "transform": [{"filter": "datum.p === 'd'"}],
          "mark": {"type": "text", "align": "left", "baseline": "alphabetic", "fontSize": 12, "color": "black"},
          "encoding": {"x": {"datum": 46.6}, "y": {"datum": 87.8}, "text": {"field": "sub"}}
        }
      ]
    }
  ]
}
